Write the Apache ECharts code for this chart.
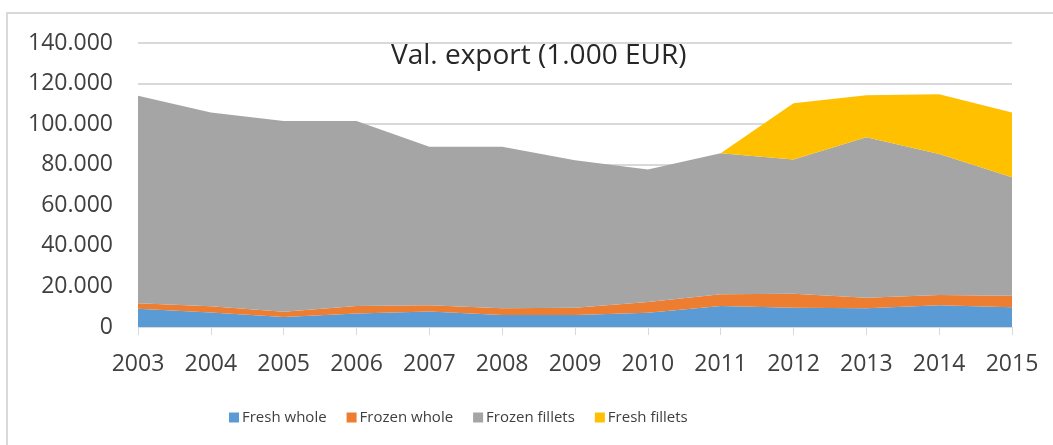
<!DOCTYPE html>
<html>
<head>
<meta charset="utf-8">
<script src="https://cdn.jsdelivr.net/npm/echarts@6/dist/echarts.min.js"></script>
<style>
  html, body { margin: 0; padding: 0; background: #fff; }
  #chart { width: 1053px; height: 445px; }
</style>
</head>
<body>
<div id="chart"></div>
<script>
// data (1.000 EUR)
var years = ['2003', '2004', '2005', '2006', '2007', '2008', '2009', '2010', '2011', '2012', '2013', '2014', '2015'];
var freshWhole = [9000, 7200, 4900, 6700, 7700, 5900, 5900, 7000, 10400, 9500, 9200, 10700, 9700];
var frozenWhole = [2700, 3000, 2600, 3700, 3000, 3300, 3600, 5300, 5700, 6900, 5200, 5100, 5700];
var frozenFillets = [102300, 95600, 94100, 91200, 78200, 79700, 72700, 65400, 69500, 66200, 79100, 69500, 58400];
var freshFillets = [0, 0, 0, 0, 0, 0, 0, 0, 0, 27700, 20700, 29400, 32000];
var seriesNames = ['Fresh whole', 'Frozen whole', 'Frozen fillets', 'Fresh fillets'];
var colors = ['#5B9BD5', '#ED7D31', '#A5A5A5', '#FFC000'];

var chart = echarts.init(document.getElementById('chart'));

function area(name, data, color) {
  return {
    name: name,
    type: 'line',
    stack: 'total',
    data: data,
    symbol: 'none',
    lineStyle: { width: 0 },
    itemStyle: { color: color },
    areaStyle: { color: color, opacity: 1 }
  };
}

var font = 'Open Sans';

chart.setOption({
  animation: false,
  color: colors,
  textStyle: { fontFamily: font },
  graphic: [{
    type: 'rect',
    shape: { x: 7, y: 13, width: 1200, height: 600 },
    style: { fill: 'none', stroke: '#D9D9D9', lineWidth: 2 },
    silent: true
  }],
  title: {
    text: 'Val. export (1.000 EUR)',
    left: 386,
    top: 37,
    textStyle: { fontFamily: font, fontSize: 28, fontWeight: 'normal', color: '#262626' }
  },
  legend: {
    bottom: 15,
    left: 224,
    itemWidth: 10,
    itemHeight: 10,
    itemGap: 20,
    icon: 'rect',
    textStyle: { fontFamily: font, fontSize: 15, color: '#404040', padding: [0, 0, 0, -2] },
    data: seriesNames
  },
  grid: {
    left: 138,
    right: 41,
    top: 43,
    bottom: 118
  },
  xAxis: {
    type: 'category',
    data: years,
    boundaryGap: false,
    axisLine: { lineStyle: { color: '#D9D9D9', width: 1 } },
    axisTick: { show: true, length: 8, lineStyle: { color: '#D9D9D9' } },
    axisLabel: { fontFamily: font, fontSize: 23, color: '#404040', margin: 26 },
    splitLine: { show: false }
  },
  yAxis: {
    type: 'value',
    min: 0,
    max: 140000,
    interval: 20000,
    axisLine: { show: false },
    axisTick: { show: false },
    axisLabel: {
      fontFamily: font,
      fontSize: 23,
      color: '#404040',
      margin: 25,
      formatter: function (v) {
        return v === 0 ? '0' : String(v).replace(/\B(?=(\d{3})+(?!\d))/g, '.');
      }
    },
    splitLine: { lineStyle: { color: '#D9D9D9', width: 2 } }
  },
  series: [
    area(seriesNames[0], freshWhole, colors[0]),
    area(seriesNames[1], frozenWhole, colors[1]),
    area(seriesNames[2], frozenFillets, colors[2]),
    area(seriesNames[3], freshFillets, colors[3])
  ]
});
</script>
</body>
</html>
